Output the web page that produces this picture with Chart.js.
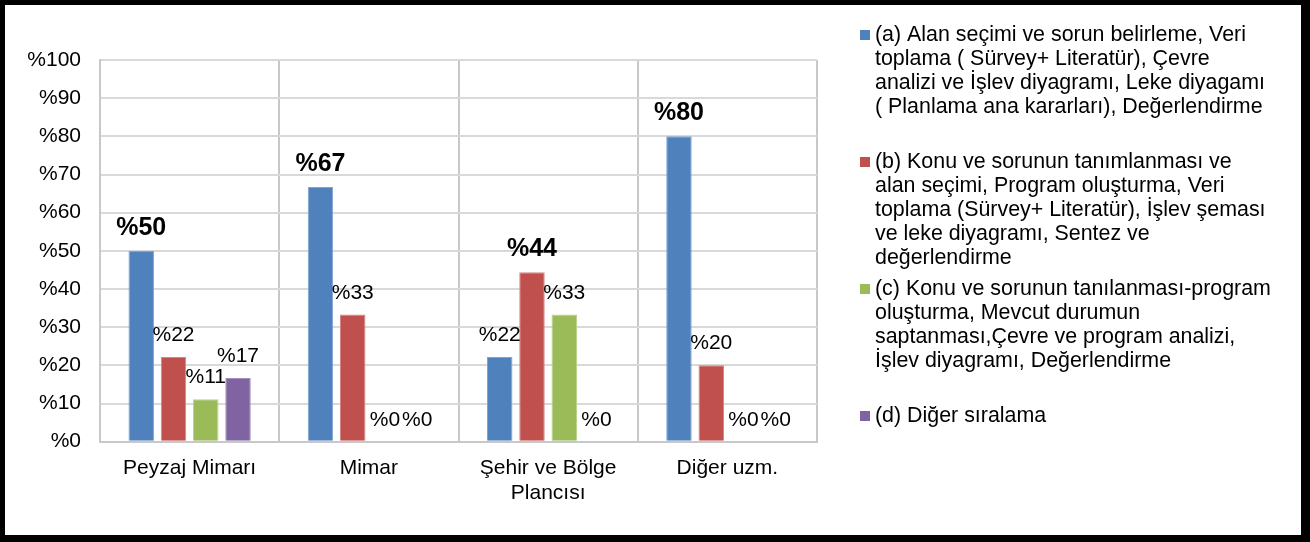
<!DOCTYPE html>
<html>
<head>
<meta charset="utf-8">
<script src="https://cdn.jsdelivr.net/npm/chart.js@4.4.1/dist/chart.umd.min.js"></script>
<style>
  html, body { margin: 0; padding: 0; background: #000; }
  #frame { position: absolute; left: 5px; top: 5px; width: 1296px; height: 530px; background: #fff; }
</style>
</head>
<body>
<div id="frame"><canvas id="myChart"></canvas></div>
<script>
// Kategoriler (meslek grupları)
const categories = ['Peyzaj Mimarı', 'Mimar', ['Şehir ve Bölge', 'Plancısı'], 'Diğer uzm.'];

// Seri değerleri (%)
const seriesA = [50, 66.7, 22.2, 80];
const seriesB = [22.2, 33.3, 44.4, 20];
const seriesC = [11.1, 0, 33.3, 0];
const seriesD = [16.7, 0, 0, 0];

const yTicks = [0, 10, 20, 30, 40, 50, 60, 70, 80, 90, 100];

// Lejant metinleri (satır satır)
const legendA = ['(a) Alan seçimi ve sorun belirleme, Veri', 'toplama ( Sürvey+ Literatür), Çevre', 'analizi ve İşlev diyagramı, Leke diyagamı', '( Planlama ana kararları), Değerlendirme'];
const legendB = ['(b) Konu ve sorunun tanımlanması ve', 'alan seçimi, Program oluşturma, Veri', 'toplama (Sürvey+ Literatür), İşlev şeması', 've leke diyagramı, Sentez ve', 'değerlendirme'];
const legendC = ['(c) Konu ve sorunun tanılanması-program', 'oluşturma, Mevcut durumun', 'saptanması,Çevre ve program analizi,', 'İşlev diyagramı, Değerlendirme'];
const legendD = ['(d) Diğer sıralama'];

const colors = ['#4f81bd', '#c0504d', '#9bbb59', '#8064a2'];
const borders = ['#7fa3d3', '#d68583', '#b9d38c', '#a38fc0'];
const FONT = "'Liberation Sans', Arial, sans-serif";

// Çubuk üstü etiketler: kategorideki en büyük değer kalın
const barLabels = {
    id: 'barLabels',
    afterDatasetsDraw(chart) {
        const ctx = chart.ctx;
        ctx.save();
        ctx.textAlign = 'center';
        ctx.textBaseline = 'alphabetic';
        ctx.fillStyle = '#000';
        chart.data.datasets.forEach((ds, i) => {
            const meta = chart.getDatasetMeta(i);
            meta.data.forEach((bar, j) => {
                const colMax = Math.max(...chart.data.datasets.map(d => d.data[j]));
                const isMax = ds.data[j] === colMax;
                ctx.font = isMax ? `bold 25px ${FONT}` : `21px ${FONT}`;
                ctx.fillText('%' + Math.round(ds.data[j]), bar.x, bar.y - 16);
            });
        });
        ctx.restore();
    }
};

// Sağdaki lejant
const sideLegend = {
    id: 'sideLegend',
    afterDraw(chart) {
        const ctx = chart.ctx;
        const x0 = chart.chartArea.right + 43;
        const slot = 127;
        const lineH = 24;
        ctx.save();
        ctx.font = `21.4px ${FONT}`;
        ctx.textBaseline = 'middle';
        ctx.textAlign = 'left';
        chart.data.datasets.forEach((ds, i) => {
            const y0 = 30 + i * slot;
            ctx.fillStyle = ds.backgroundColor;
            ctx.fillRect(x0, y0 - 5, 10, 10);
            ctx.fillStyle = '#000';
            ds.legendLines.forEach((line, k) => {
                ctx.fillText(line, x0 + 15, y0 + k * lineH);
            });
        });
        ctx.restore();
    }
};

const ctx = document.getElementById('myChart');

const myChart = new Chart(ctx, {
    type: 'bar',
    data: {
        labels: categories,
        datasets: [
            { label: legendA.join(' '), legendLines: legendA, data: seriesA, backgroundColor: colors[0], borderColor: borders[0] },
            { label: legendB.join(' '), legendLines: legendB, data: seriesB, backgroundColor: colors[1], borderColor: borders[1] },
            { label: legendC.join(' '), legendLines: legendC, data: seriesC, backgroundColor: colors[2], borderColor: borders[2] },
            { label: legendD.join(' '), legendLines: legendD, data: seriesD, backgroundColor: colors[3], borderColor: borders[3] }
        ]
    },
    options: {
        responsive: true,
        maintainAspectRatio: false,
        animation: false,
        categoryPercentage: 0.72,
        barPercentage: 0.79,
        datasets: {
            bar: { borderWidth: { top: 1, left: 1, right: 1, bottom: 0 } }
        },
        layout: {
            padding: { top: 55, right: 484, bottom: 0, left: 0 }
        },
        plugins: {
            legend: { display: false },
            tooltip: { enabled: false }
        },
        scales: {
            x: {
                afterFit: (scale) => { scale.height = 93.3; },
                grid: {
                    offset: true,
                    color: '#c8c8c8',
                    lineWidth: 2,
                    drawTicks: false
                },
                border: { color: '#c8c8c8', width: 2 },
                ticks: {
                    color: '#000',
                    padding: 14,
                    font: { family: FONT, size: 21, lineHeight: 1.2 }
                }
            },
            y: {
                min: 0,
                max: 100,
                afterFit: (scale) => { scale.width = 95; },
                afterBuildTicks: (scale) => { scale.ticks = yTicks.map(v => ({ value: v })); },
                grid: {
                    color: '#d9d9d9',
                    lineWidth: 2,
                    drawTicks: false
                },
                border: { color: '#c8c8c8', width: 2 },
                ticks: {
                    color: '#000',
                    padding: 19,
                    font: { family: FONT, size: 21 },
                    callback: (v) => '%' + v
                }
            }
        }
    },
    plugins: [barLabels, sideLegend]
});
</script>
</body>
</html>
